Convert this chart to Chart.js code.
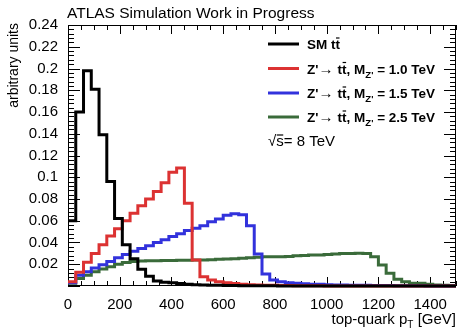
<!DOCTYPE html>
<html lang="en">
<head>
<meta charset="UTF-8">
<title>top-quark pT</title>
<script src="https://cdn.jsdelivr.net/npm/chart.js@4.4.0/dist/chart.umd.min.js"></script>
<style>
  html, body { margin: 0; padding: 0; background: #fff; }
</style>
</head>
<body>
<canvas id="ptChart" width="458" height="330"></canvas>
<script>
// bin low edges [GeV], 30 GeV bins, last entry is the upper edge of the last bin
const binEdges = [0, 30, 60, 90, 120, 150, 180, 210, 240, 270, 300, 330, 360, 390, 420, 450, 480, 510, 540, 570,
  600, 630, 660, 690, 720, 750, 780, 810, 840, 870, 900, 930, 960, 990, 1020, 1050, 1080, 1110, 1140, 1170,
  1200, 1230, 1260, 1290, 1320, 1350, 1380, 1410, 1440, 1470, 1500];

const smTtbar = [0.060, 0.160, 0.198, 0.181, 0.139, 0.096, 0.062, 0.038, 0.025, 0.0155,
  0.009, 0.0045, 0.0035, 0.003, 0.0022, 0.0016, 0.0012, 0.001, 0.0008, 0.0006,
  0.0005, 0.0004, 0.0003, 0.0003, 0.0002, 0.0002, 0.0002, 0.0001, 0.0001, 0.0001,
  0.0001, 0, 0, 0, 0, 0, 0, 0, 0, 0, 0, 0, 0, 0, 0, 0, 0, 0, 0, 0];

const zp1000 = [0.004, 0.0126, 0.0218, 0.030, 0.038, 0.046, 0.0526, 0.060, 0.067, 0.0738,
  0.080, 0.087, 0.095, 0.1045, 0.1085, 0.076, 0.024, 0.0086, 0.0055, 0.004,
  0.003, 0.0022, 0.0016, 0.0012, 0.001, 0.0008, 0.0006, 0.0005, 0.0004, 0.0003,
  0.0003, 0.0002, 0.0002, 0.0001, 0.0001, 0.0001, 0, 0, 0, 0, 0, 0, 0, 0, 0, 0, 0, 0, 0, 0];

const zp1500 = [0.003, 0.010, 0.013, 0.0165, 0.0195, 0.0225, 0.026, 0.029, 0.032, 0.0345,
  0.037, 0.040, 0.0425, 0.0455, 0.048, 0.051, 0.053, 0.0555, 0.059, 0.0615,
  0.065, 0.0665, 0.0655, 0.0555, 0.0295, 0.011, 0.0055, 0.004, 0.003, 0.0025,
  0.002, 0.0017, 0.0015, 0.0012, 0.001, 0.0009, 0.0008, 0.0007, 0.0006, 0.0005,
  0.0004, 0.0004, 0.0003, 0.0003, 0.0002, 0.0002, 0.0001, 0.0001, 0.0001, 0.0001];

const zp2500 = [0.0025, 0.007, 0.010, 0.013, 0.0157, 0.0178, 0.020, 0.0215, 0.0225, 0.023,
  0.0232, 0.0233, 0.0234, 0.0235, 0.0236, 0.0237, 0.0238, 0.024, 0.0242, 0.0245,
  0.0248, 0.025, 0.0255, 0.026, 0.0265, 0.027, 0.027, 0.0268, 0.0272, 0.0278,
  0.028, 0.0285, 0.0285, 0.029, 0.0295, 0.0298, 0.030, 0.0302, 0.030, 0.027,
  0.0194, 0.0117, 0.0062, 0.004, 0.0025, 0.0025, 0.0015, 0.001, 0.0008, 0.0005];

const xTicks = [0, 200, 400, 600, 800, 1000, 1200, 1400];
const yTicks = [0.02, 0.04, 0.06, 0.08, 0.1, 0.12, 0.14, 0.16, 0.18, 0.2, 0.22, 0.24];
const xMinorStep = 50;
const yMinorStep = 0.004;

const colBlack = '#000000';
const colRed = '#dc3232';
const colBlue = '#3232dc';
const colGreen = '#3a6b3a';

const FONT = '"Liberation Sans", Arial, Helvetica, sans-serif';

function histPoints(vals) {
  const pts = vals.map((v, i) => ({ x: binEdges[i], y: v }));
  pts.push({ x: binEdges[vals.length], y: vals[vals.length - 1] });
  return pts;
}

function hist(label, vals, color) {
  return {
    label: label,
    data: histPoints(vals),
    borderColor: color,
    backgroundColor: color,
    borderWidth: 3,
    stepped: true,
    pointRadius: 0,
    fill: false,
    clip: false
  };
}

// draw a run of text pieces one after the other
function drawRuns(ctx, x, y, runs) {
  for (const r of runs) {
    ctx.font = r.font;
    ctx.fillText(r.text, x, y + (r.dy || 0));
    const w = ctx.measureText(r.text).width;
    if (r.bar) {
      ctx.save();
      ctx.lineWidth = 1.2;
      ctx.beginPath();
      ctx.moveTo(x + 0.5, y - r.bar);
      ctx.lineTo(x + w - 0.5, y - r.bar);
      ctx.stroke();
      ctx.restore();
    }
    x += w + (r.gap || 0);
  }
  return x;
}

const atlasFrame = {
  id: 'atlasFrame',
  beforeDatasetsDraw(chart) {
    const { ctx, chartArea: a, scales: { x, y } } = chart;
    ctx.save();
    ctx.strokeStyle = '#000';
    ctx.lineWidth = 1;
    // x ticks, bottom and top
    for (let v = 0; v <= 1500; v += xMinorStep) {
      const px = Math.round(x.getPixelForValue(v)) + 0.5;
      const len = xTicks.includes(v) ? 9 : 5;
      ctx.beginPath();
      ctx.moveTo(px, a.bottom); ctx.lineTo(px, a.bottom - len);
      ctx.moveTo(px, a.top); ctx.lineTo(px, a.top + len);
      ctx.stroke();
    }
    // y ticks, left and right
    for (let k = 0; k <= 60; k++) {
      const v = k * yMinorStep;
      const py = Math.round(y.getPixelForValue(v)) + 0.5;
      const len = (k % 5 === 0) ? 12 : 6;
      ctx.beginPath();
      ctx.moveTo(a.left, py); ctx.lineTo(a.left + len, py);
      ctx.moveTo(a.right, py); ctx.lineTo(a.right - len, py);
      ctx.stroke();
    }
    ctx.strokeRect(Math.round(a.left) + 0.5, Math.round(a.top) + 0.5,
      Math.round(a.right - a.left) - 1, Math.round(a.bottom - a.top) - 1);
    ctx.restore();
  },
  afterDraw(chart) {
    const { ctx } = chart;
    ctx.save();
    ctx.fillStyle = '#000';
    ctx.strokeStyle = '#000';
    ctx.textBaseline = 'alphabetic';

    // title
    ctx.font = '15.5px ' + FONT;
    ctx.textAlign = 'left';
    ctx.fillText('ATLAS Simulation Work in Progress', 67, 18);

    // y axis title
    ctx.save();
    ctx.translate(14, 23);
    ctx.rotate(-Math.PI / 2);
    ctx.textAlign = 'right';
    ctx.textBaseline = 'middle';
    ctx.font = '14px ' + FONT;
    ctx.fillText('arbitrary units', 0, 0);
    ctx.restore();

    // x axis title, right aligned
    const xt = [
      { text: 'top-quark p', font: '15px ' + FONT },
      { text: 'T', font: '10px ' + FONT, dy: 4 },
      { text: ' [GeV]', font: '15px ' + FONT }
    ];
    let tw = 0;
    for (const r of xt) { ctx.font = r.font; tw += ctx.measureText(r.text).width; }
    drawRuns(ctx, 456 - tw, 324, xt);

    // legend
    const bold = 'bold 13.5px ' + FONT;
    const sub = 'bold 9.5px ' + FONT;
    const arrow = '15px ' + FONT;
    const rows = [
      { color: colBlack, y: 44, runs: [
        { text: 'SM t', font: bold }, { text: 't', font: bold, bar: 11 }] },
      { color: colRed, y: 68.5, runs: null, mass: '1.0' },
      { color: colBlue, y: 93, runs: null, mass: '1.5' },
      { color: colGreen, y: 117, runs: null, mass: '2.5' }
    ];
    for (const row of rows) {
      ctx.strokeStyle = row.color;
      ctx.lineWidth = 3;
      ctx.beginPath();
      ctx.moveTo(268, row.y); ctx.lineTo(299, row.y);
      ctx.stroke();
      ctx.strokeStyle = '#000';
      const runs = row.runs || [
        { text: "Z'", font: bold },
        { text: '\u2192 ', font: arrow },
        { text: 't', font: bold }, { text: 't', font: bold, bar: 11 },
        { text: ', M', font: bold },
        { text: "Z'", font: sub, dy: 4 },
        { text: ' = ' + row.mass + ' TeV', font: bold }
      ];
      drawRuns(ctx, 307, row.y + 5, runs);
    }
    // sqrt(s)
    drawRuns(ctx, 268, 146, [
      { text: '\u221A', font: '15px ' + FONT },
      { text: 's', font: '15px ' + FONT, bar: 11 },
      { text: '= 8 TeV', font: '15px ' + FONT }
    ]);
    ctx.restore();
  }
};

Chart.defaults.font.family = FONT;
Chart.defaults.color = '#000';

new Chart(document.getElementById('ptChart'), {
  type: 'line',
  data: {
    datasets: [
      hist('SM ttbar', smTtbar, colBlack),
      hist("Z' 1.0 TeV", zp1000, colRed),
      hist("Z' 1.5 TeV", zp1500, colBlue),
      hist("Z' 2.5 TeV", zp2500, colGreen)
    ]
  },
  options: {
    responsive: false,
    animation: false,
    layout: { padding: { top: 25, right: 2, left: 0, bottom: 0 } },
    plugins: {
      legend: { display: false },
      tooltip: { enabled: false },
      title: { display: false }
    },
    scales: {
      x: {
        type: 'linear',
        min: 0,
        max: 1500,
        afterFit(scale) { scale.height = 44; },
        afterBuildTicks(scale) { scale.ticks = xTicks.map(v => ({ value: v })); },
        grid: { display: false },
        border: { display: false },
        ticks: {
          font: { size: 15 }, padding: 2, maxRotation: 0, autoSkip: false, color: '#000',
          callback: v => String(v)
        }
      },
      y: {
        min: 0,
        max: 0.24,
        afterFit(scale) { scale.width = 68; },
        afterBuildTicks(scale) { scale.ticks = yTicks.map(v => ({ value: v })); },
        grid: { display: false },
        border: { display: false },
        ticks: {
          font: { size: 15 },
          padding: 2,
          color: '#000',
          callback: v => String(Math.round(v * 100) / 100)
        }
      }
    }
  },
  plugins: [atlasFrame]
});
</script>
</body>
</html>
